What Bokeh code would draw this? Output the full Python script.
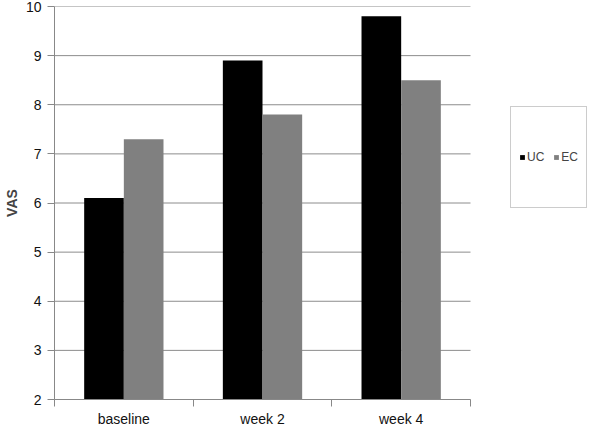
from bokeh.plotting import figure
from bokeh.models import ColumnDataSource, FixedTicker, Legend, LegendItem, Range1d
from bokeh.embed import file_html
from bokeh.resources import INLINE

categories = ["baseline", "week 2", "week 4"]
uc_values = [6.1, 8.9, 9.8]
ec_values = [7.3, 7.8, 8.5]
y_ticks = [2, 3, 4, 5, 6, 7, 8, 9, 10]

n = len(categories)
centers = [i + 0.5 for i in range(n)]
bar_w = 0.286
src = ColumnDataSource(dict(
    x_uc=[c - bar_w / 2 for c in centers],
    x_ec=[c + bar_w / 2 for c in centers],
    uc=uc_values, ec=ec_values,
))

W, H = 592, 429
left = 54
unit_px = 138.67  # pixels per category
x_end = (W - left) / unit_px

p = figure(width=W, height=H, output_backend="svg", toolbar_location=None,
           x_range=Range1d(0, x_end), y_range=Range1d(min(y_ticks), max(y_ticks)),
           min_border_left=left, min_border_right=0, min_border_top=6, min_border_bottom=0)
p.outline_line_color = None
p.background_fill_color = "white"
p.border_fill_color = "white"

# horizontal gridlines limited to the category area
grid_src = ColumnDataSource(dict(y=y_ticks, x0=[0] * len(y_ticks), x1=[n] * len(y_ticks)))
p.segment(x0="x0", x1="x1", y0="y", y1="y", source=grid_src,
          line_color="#8c8c8c", line_width=1)

r_uc = p.vbar(x="x_uc", top="uc", bottom=min(y_ticks), width=bar_w, source=src,
              fill_color="#000000", line_color=None)
r_ec = p.vbar(x="x_ec", top="ec", bottom=min(y_ticks), width=bar_w, source=src,
              fill_color="#808080", line_color=None)

font = "Liberation Sans"
# x axis
p.xaxis.bounds = (0, n)
p.xaxis.ticker = FixedTicker(ticks=centers, minor_ticks=list(range(n + 1)))
p.xaxis.major_label_overrides = {c: lab for c, lab in zip(centers, categories)}
p.xaxis.major_tick_out = 0
p.xaxis.major_tick_in = 0
p.xaxis.minor_tick_out = 7
p.xaxis.minor_tick_in = 0
p.xaxis.minor_tick_line_color = "#888888"
p.xaxis.axis_line_color = "#888888"
p.xaxis.major_label_text_font = font
p.xaxis.major_label_text_font_size = "14px"
p.xaxis.major_label_text_color = "#111111"
p.xaxis.major_label_standoff = 4
p.xgrid.grid_line_color = None
p.ygrid.grid_line_color = None

# y axis
p.yaxis.ticker = FixedTicker(ticks=y_ticks)
p.yaxis.minor_tick_line_color = None
p.yaxis.major_tick_out = 7
p.yaxis.major_tick_in = 0
p.yaxis.major_tick_line_color = "#888888"
p.yaxis.axis_line_color = "#888888"
p.yaxis.major_label_text_font = font
p.yaxis.major_label_text_font_size = "14px"
p.yaxis.major_label_text_color = "#111111"
p.yaxis.major_label_standoff = 6
p.yaxis.axis_label = "VAS"
p.yaxis.axis_label_text_font = font
p.yaxis.axis_label_text_font_style = "bold"
p.yaxis.axis_label_text_font_size = "14px"
p.yaxis.axis_label_standoff = 3

legend = Legend(items=[LegendItem(label="UC", renderers=[r_uc]),
                       LegendItem(label="EC", renderers=[r_ec])],
                orientation="horizontal", location=(456, 191), margin=0, padding=8,
                spacing=9, glyph_width=6, glyph_height=6, label_standoff=2,
                label_width=16, label_height=84,
                label_text_font=font, label_text_font_size="12px",
                border_line_color="#999999", border_line_width=1,
                background_fill_color="white")
p.add_layout(legend, "center")

open("out.html", "w").write(file_html(p, INLINE))
